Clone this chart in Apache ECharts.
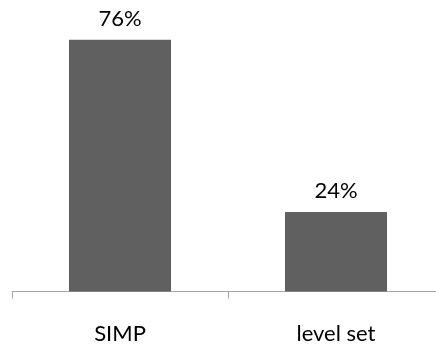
<!DOCTYPE html>
<html>
<head>
<meta charset="utf-8">
<script src="https://cdn.jsdelivr.net/npm/echarts@6/dist/echarts.min.js"></script>
<style>
  html, body { margin: 0; padding: 0; background: #ffffff; overflow: hidden; }
  /* the plot runs slightly past the right edge of the page */
  #chart { width: 444px; height: 345px; }
</style>
</head>
<body>
<div id="chart"></div>
<script>
// Share of cases per method (percent)
const categories = ['SIMP', 'level set'];
const shares = [76, 24];

const chart = echarts.init(document.getElementById('chart'), null, { renderer: 'canvas' });

chart.setOption({
  animation: false,
  backgroundColor: '#ffffff',
  grid: { left: 12, right: 0, top: 26.5, bottom: 53.5, containLabel: false },
  xAxis: {
    type: 'category',
    data: categories,
    axisLine: { lineStyle: { color: '#a6a6a6', width: 1 } },
    axisTick: { show: true, length: 7, lineStyle: { color: '#a6a6a6' } },
    axisLabel: {
      margin: 31,
      fontFamily: 'Lato',
      fontSize: 22,
      color: '#000000'
    }
  },
  yAxis: {
    type: 'value',
    min: 0,
    max: 80,
    show: false,
    splitLine: { show: false }
  },
  series: [{
    type: 'bar',
    data: shares,
    barWidth: 102,
    itemStyle: { color: '#606060' },
    label: {
      show: true,
      position: 'top',
      distance: 10,
      formatter: p => p.value + '%',
      fontFamily: 'Lato',
      fontSize: 22,
      color: '#000000'
    }
  }]
});
</script>
</body>
</html>
